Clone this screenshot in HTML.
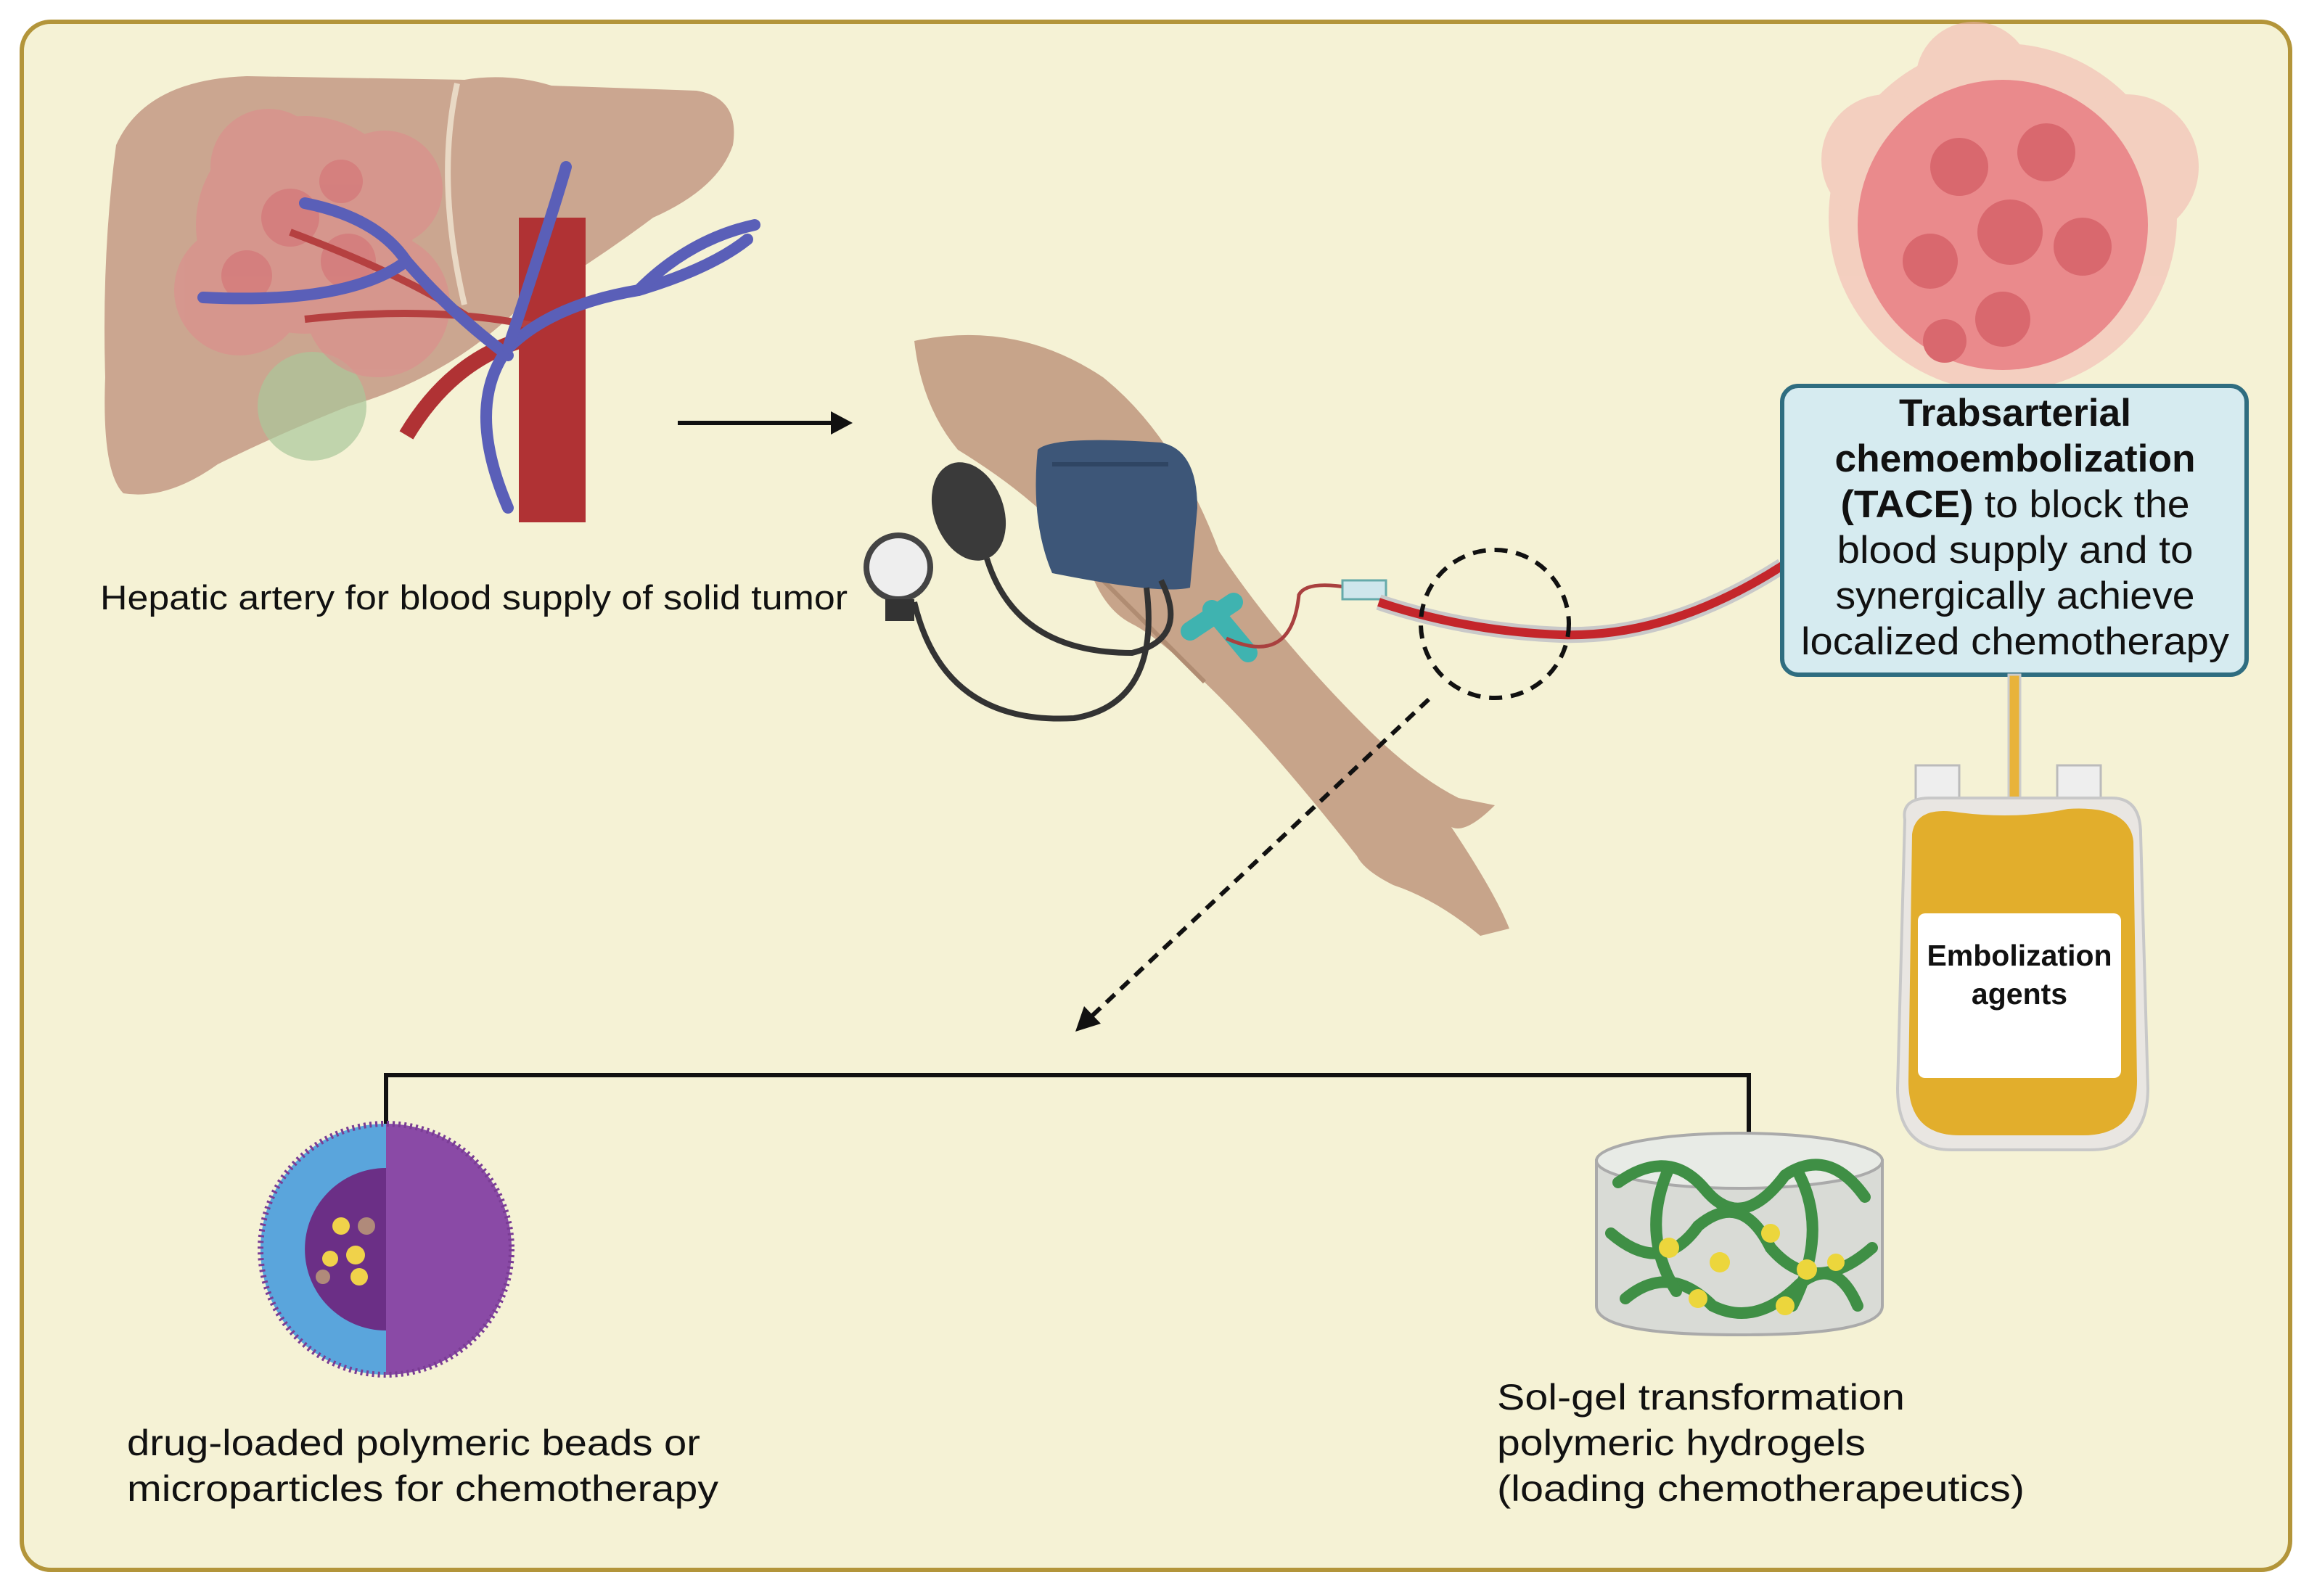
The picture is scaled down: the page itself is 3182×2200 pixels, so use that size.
<!DOCTYPE html>
<html><head><meta charset="utf-8"><style>
html,body{margin:0;padding:0;background:#fff}
svg{display:block}
text{font-family:"Liberation Sans",sans-serif;fill:#111}
</style></head><body>
<svg width="3182" height="2200" viewBox="0 0 3182 2200" xmlns="http://www.w3.org/2000/svg">
<rect x="0" y="0" width="3182" height="2200" fill="#ffffff"/>
<rect x="30" y="30" width="3126" height="2134" rx="40" fill="#f5f2d5" stroke="#b3953a" stroke-width="6"/>

<!-- liver -->
<path d="M160 200 Q200 110 340 105 L640 110 Q700 100 760 118 L960 125 Q1020 135 1010 200 Q990 260 900 300 Q820 360 720 420 Q620 520 480 560 Q380 600 300 640 Q230 690 170 680 Q140 650 145 520 Q140 350 160 200 Z" fill="#cba690"/>
<path d="M630 115 Q600 250 640 420" stroke="#e9d9c5" stroke-width="8" fill="none"/>
<circle cx="430" cy="560" r="75" fill="#a9c79a" opacity="0.7"/>
<g fill="#e08a8c" opacity="0.55">
<circle cx="420" cy="310" r="150"/><circle cx="330" cy="400" r="90"/><circle cx="520" cy="420" r="100"/><circle cx="370" cy="230" r="80"/><circle cx="530" cy="260" r="80"/>
</g>
<g fill="#d46a70" opacity="0.5">
<circle cx="400" cy="300" r="40"/><circle cx="480" cy="360" r="38"/><circle cx="340" cy="380" r="35"/><circle cx="470" cy="250" r="30"/>
</g>
<rect x="715" y="300" width="92" height="420" fill="#b03234"/>
<path d="M715 470 Q620 500 560 600" stroke="#b03234" stroke-width="22" fill="none"/>
<path d="M740 450 Q600 420 420 440 M650 440 Q560 380 400 320" stroke="#b54040" stroke-width="10" fill="none"/>
<g stroke="#5a5fb8" stroke-width="16" fill="none" stroke-linecap="round">
<path d="M700 700 Q640 560 700 480 Q760 420 880 400 Q980 370 1030 330"/>
<path d="M700 490 Q620 430 560 360 Q520 300 420 280"/>
<path d="M560 360 Q480 420 280 410"/>
<path d="M700 480 Q760 300 780 230"/>
<path d="M880 400 Q950 330 1040 310"/>
</g>
<path d="M934 583 L1155 583" stroke="#111" stroke-width="6"/>
<polygon points="1175,583 1145,567 1145,599" fill="#111"/>
<text x="138" y="840" font-size="47" textLength="1030" lengthAdjust="spacingAndGlyphs">Hepatic artery for blood supply of solid tumor</text>

<!-- arm -->
<path d="M1260 470 Q1400 440 1520 520 Q1620 600 1680 760 Q1760 880 1880 1000 Q1950 1070 2010 1100 L2060 1110 Q2020 1150 2000 1140 Q2060 1230 2080 1280 L2040 1290 Q1980 1240 1920 1220 Q1880 1200 1870 1180 Q1760 1040 1680 960 Q1600 880 1560 860 Q1520 840 1500 780 Q1450 700 1320 620 Q1270 560 1260 470 Z" fill="#c7a48a"/>
<path d="M1500 780 Q1580 860 1660 940" stroke="#b08c72" stroke-width="6" fill="none"/>
<path d="M1430 620 Q1450 600 1600 610 Q1650 620 1650 700 L1640 810 Q1600 820 1450 790 Q1420 720 1430 620 Z" fill="#3d5678"/>
<path d="M1450 640 L1610 640" stroke="#2f4563" stroke-width="6"/>
<ellipse cx="1335" cy="705" rx="48" ry="70" fill="#3a3a3a" transform="rotate(-20 1335 705)"/>
<path d="M1360 770 Q1400 900 1560 900 Q1640 880 1600 800" stroke="#333" stroke-width="8" fill="none"/>
<path d="M1260 830 Q1300 1000 1480 990 Q1600 970 1580 810" stroke="#333" stroke-width="8" fill="none"/>
<circle cx="1238" cy="782" r="44" fill="#eee" stroke="#444" stroke-width="8"/>
<rect x="1220" y="826" width="40" height="30" fill="#333"/>
<path d="M1640 870 L1700 830 M1670 840 L1720 900" stroke="#3fb3b0" stroke-width="26" stroke-linecap="round"/>
<path d="M1690 880 Q1780 920 1790 820 Q1800 800 1860 810" stroke="#a9403f" stroke-width="5" fill="none"/>
<rect x="1850" y="800" width="60" height="26" fill="#cfe6ec" stroke="#6aa" stroke-width="3"/>
<path d="M1900 830 Q2020 870 2150 875 Q2300 880 2456 780" stroke="#c9c9c9" stroke-width="22" fill="none"/>
<path d="M1900 830 Q2020 870 2150 875 Q2300 880 2456 780" stroke="#c4262b" stroke-width="12" fill="none"/>
<circle cx="2060" cy="860" r="102" fill="none" stroke="#111" stroke-width="6" stroke-dasharray="18 12"/>
<path d="M1969 964 L1502 1403" stroke="#111" stroke-width="6" stroke-dasharray="16 11"/>
<polygon points="1482,1422 1494,1387 1517,1411" fill="#111"/>

<!-- tumor cluster -->
<g fill="#f2b3ae" opacity="0.55">
<circle cx="2760" cy="300" r="240"/><circle cx="2600" cy="220" r="90"/><circle cx="2930" cy="230" r="100"/><circle cx="2720" cy="110" r="80"/>
</g>
<g fill="#ea8a8c">
<circle cx="2760" cy="310" r="200"/></g>
<g fill="#d9686e">
<circle cx="2700" cy="230" r="40"/><circle cx="2820" cy="210" r="40"/><circle cx="2770" cy="320" r="45"/><circle cx="2660" cy="360" r="38"/><circle cx="2870" cy="340" r="40"/><circle cx="2760" cy="440" r="38"/><circle cx="2680" cy="470" r="30"/>
</g>

<!-- TACE box -->
<rect x="2456" y="532" width="640" height="398" rx="22" fill="#d6ebf0" stroke="#2f6d80" stroke-width="6"/>
<g font-size="53" text-anchor="middle">
<text x="2777" y="587" font-weight="bold" textLength="320" lengthAdjust="spacingAndGlyphs">Trabsarterial</text>
<text x="2777" y="650" font-weight="bold" textLength="497" lengthAdjust="spacingAndGlyphs">chemoembolization</text>
<text x="2777" y="713" textLength="481" lengthAdjust="spacingAndGlyphs"><tspan font-weight="bold">(TACE)</tspan> to block the</text>
<text x="2777" y="776" textLength="491" lengthAdjust="spacingAndGlyphs">blood supply and to</text>
<text x="2777" y="839" textLength="495" lengthAdjust="spacingAndGlyphs">synergically achieve</text>
<text x="2777" y="902" textLength="590" lengthAdjust="spacingAndGlyphs">localized chemotherapy</text>
</g>

<!-- bag -->
<rect x="2768" y="930" width="16" height="180" fill="#e8b33a" stroke="#ccc" stroke-width="3"/>
<rect x="2640" y="1055" width="60" height="60" fill="#eee" stroke="#bbb" stroke-width="3"/>
<rect x="2835" y="1055" width="60" height="60" fill="#eee" stroke="#bbb" stroke-width="3"/>
<path d="M2625 1130 Q2620 1100 2660 1100 L2910 1100 Q2950 1100 2950 1150 L2960 1500 Q2960 1585 2880 1585 L2690 1585 Q2615 1585 2615 1500 Z" fill="#e9e6e2" stroke="#c8c8c8" stroke-width="4"/>
<path d="M2635 1150 Q2640 1110 2700 1120 Q2780 1130 2850 1115 Q2935 1110 2940 1160 L2945 1490 Q2945 1565 2870 1565 L2700 1565 Q2630 1565 2630 1490 Z" fill="#e2ae2c"/>
<rect x="2643" y="1259" width="280" height="227" rx="10" fill="#fff"/>
<g font-size="41" font-weight="bold" text-anchor="middle">
<text x="2783" y="1331">Embolization</text>
<text x="2783" y="1384">agents</text>
</g>

<!-- bracket -->
<path d="M532 1563 L532 1482 L2410 1482 L2410 1563" stroke="#111" stroke-width="6" fill="none"/>

<!-- bead -->
<circle cx="532" cy="1722" r="173" fill="#5aa5dc"/>
<path d="M532 1549 A173 173 0 0 1 532 1895 Z" fill="#8a4aa6"/>
<path d="M532 1610 A112 112 0 0 0 532 1834 Z" fill="#6b2f86"/>
<circle cx="532" cy="1722" r="173" fill="none" stroke="#7a3c94" stroke-width="8" stroke-dasharray="3 5"/>
<g fill="#f0d24a"><circle cx="470" cy="1690" r="12"/><circle cx="490" cy="1730" r="13"/><circle cx="455" cy="1735" r="11"/><circle cx="495" cy="1760" r="12"/></g>
<g fill="#b08a7a"><circle cx="505" cy="1690" r="12"/><circle cx="445" cy="1760" r="10"/></g>
<g font-size="50">
<text x="175" y="2006" textLength="790" lengthAdjust="spacingAndGlyphs">drug-loaded polymeric beads or</text>
<text x="175" y="2069" textLength="815" lengthAdjust="spacingAndGlyphs">microparticles for chemotherapy</text>
</g>

<!-- hydrogel -->
<path d="M2200 1600 L2200 1800 Q2200 1840 2396 1840 Q2594 1840 2594 1800 L2594 1600 Z" fill="#d9dbd6" stroke="#aaa" stroke-width="4"/>
<ellipse cx="2397" cy="1600" rx="197" ry="38" fill="#e8ebe6" stroke="#aaa" stroke-width="4"/>
<g stroke="#3f8f45" stroke-width="16" fill="none" stroke-linecap="round">
<path d="M2230 1630 Q2300 1580 2350 1640 Q2400 1700 2460 1620 Q2520 1580 2570 1650"/>
<path d="M2220 1700 Q2290 1760 2340 1690 Q2400 1640 2440 1720 Q2500 1790 2580 1720"/>
<path d="M2240 1790 Q2300 1740 2360 1800 Q2420 1830 2480 1770 Q2530 1730 2560 1800"/>
<path d="M2300 1610 Q2260 1700 2310 1780 M2480 1620 Q2520 1700 2470 1800"/>
</g>
<g fill="#ecd63c"><circle cx="2300" cy="1720" r="14"/><circle cx="2370" cy="1740" r="14"/><circle cx="2440" cy="1700" r="13"/><circle cx="2490" cy="1750" r="14"/><circle cx="2340" cy="1790" r="13"/><circle cx="2460" cy="1800" r="13"/><circle cx="2530" cy="1740" r="12"/></g>
<g font-size="50">
<text x="2063" y="1943" textLength="562" lengthAdjust="spacingAndGlyphs">Sol-gel transformation</text>
<text x="2063" y="2006" textLength="508" lengthAdjust="spacingAndGlyphs">polymeric hydrogels</text>
<text x="2063" y="2069" textLength="727" lengthAdjust="spacingAndGlyphs">(loading chemotherapeutics)</text>
</g>
</svg>
</body></html>
